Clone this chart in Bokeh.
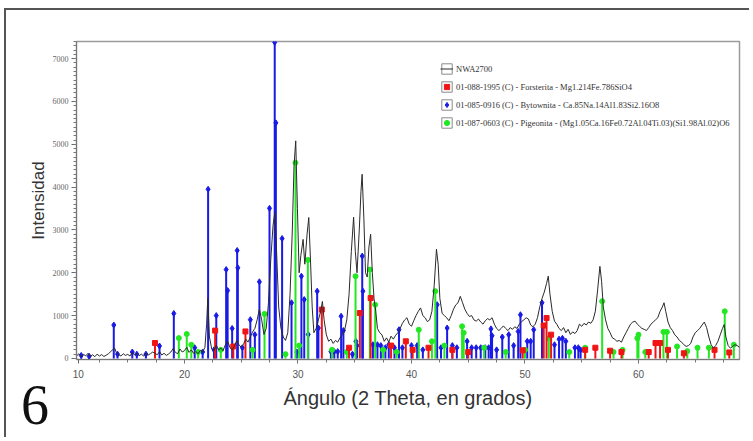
from bokeh.plotting import figure
from bokeh.models import (ColumnDataSource, Range1d, Legend, LegendItem, Div,
                          SingleIntervalTicker, FixedTicker)
from bokeh.layouts import column
from bokeh.embed import file_html
from bokeh.resources import INLINE

# ---------------- data ----------------
nwa_angle = [10.5, 10.7, 10.9, 11.1, 11.3, 11.5, 11.7, 11.9, 12.1, 12.3, 12.5, 12.7, 12.9, 13.1, 13.3,
             13.5, 13.7, 13.85, 14.0, 14.2, 14.4, 14.6, 14.8, 15.0, 15.2, 15.4, 15.6, 15.8, 16.0, 16.2,
             16.4, 16.6, 16.8, 17.0, 17.2, 17.4, 17.6, 17.8, 18.0, 18.2, 18.4, 18.6, 18.8, 19.0, 19.2,
             19.4, 19.6, 19.8, 20.0, 20.2, 20.4, 20.6, 20.8, 21.0, 21.2, 21.4, 21.6, 21.8, 21.95, 22.05,
             22.2, 22.4, 22.6, 22.8, 23.0, 23.2, 23.4, 23.6, 23.8, 24.0, 24.2, 24.4, 24.6, 24.8, 25.0,
             25.2, 25.4, 25.6, 25.8, 26.0, 26.2, 26.4, 26.6, 26.8, 27.0, 27.2, 27.4, 27.6, 27.8, 27.95,
             28.1, 28.3, 28.5, 28.7, 28.9, 29.1, 29.3, 29.5, 29.65, 29.8, 29.95, 30.1, 30.25, 30.45, 30.6,
             30.8, 30.95, 31.1, 31.25, 31.4, 31.6, 31.8, 32.0, 32.15, 32.3, 32.5, 32.7, 32.9, 33.1, 33.3,
             33.5, 33.7, 33.9, 34.1, 34.3, 34.5, 34.7, 34.9, 35.05, 35.2, 35.4, 35.55, 35.65, 35.8, 35.95,
             36.1, 36.25, 36.4, 36.55, 36.7, 36.85, 37.0, 37.2, 37.4, 37.6, 37.8, 38.0, 38.2, 38.4, 38.6,
             38.8, 39.0, 39.2, 39.4, 39.6, 39.8, 40.0, 40.2, 40.4, 40.6, 40.8, 41.0, 41.2, 41.4, 41.6,
             41.8, 42.0, 42.2, 42.35, 42.5, 42.7, 42.9, 43.1, 43.3, 43.5, 43.7, 43.9, 44.1, 44.3, 44.5,
             44.7, 44.9, 45.1, 45.3, 45.5, 45.7, 45.9, 46.1, 46.3, 46.5, 46.7, 46.9, 47.1, 47.3, 47.5,
             47.7, 47.9, 48.1, 48.3, 48.5, 48.7, 48.9, 49.1, 49.3, 49.5, 49.7, 49.9, 50.1, 50.3, 50.5,
             50.7, 50.9, 51.1, 51.3, 51.5, 51.7, 51.9, 52.05, 52.2, 52.4, 52.6, 52.8, 53.0, 53.2, 53.4,
             53.6, 53.8, 54.0, 54.2, 54.4, 54.6, 54.8, 55.0, 55.2, 55.4, 55.6, 55.8, 56.0, 56.2, 56.4,
             56.6, 56.75, 56.9, 57.1, 57.3, 57.5, 57.7, 57.9, 58.1, 58.3, 58.5, 58.7, 58.9, 59.1, 59.3,
             59.5, 59.7, 59.9, 60.1, 60.3, 60.5, 60.7, 60.9, 61.1, 61.3, 61.5, 61.7, 61.9, 62.1, 62.25,
             62.4, 62.6, 62.8, 63.0, 63.2, 63.4, 63.6, 63.8, 64.0, 64.2, 64.4, 64.6, 64.8, 65.0, 65.2,
             65.4, 65.6, 65.8, 66.0, 66.2, 66.4, 66.6, 66.8, 67.0, 67.2, 67.4, 67.55, 67.7, 67.9, 68.1,
             68.3, 68.5, 68.7, 68.9]
nwa_int = [60, 110, 40, 95, 60, 120, 45, 85, 40, 100, 55, 90, 45, 75, 110,
           160, 210, 240, 130, 90, 55, 110, 70, 95, 55, 140, 80, 120, 65, 100,
           55, 130, 80, 110, 150, 120, 85, 160, 80, 120, 70, 105, 150, 230, 140,
           110, 220, 150, 180, 260, 140, 200, 120, 160, 110, 190, 150, 260, 800, 1400,
           500, 220, 180, 310, 200, 240, 180, 320, 400, 260, 200, 280, 420, 320, 260,
           330, 450, 380, 500, 620, 700, 900, 1150, 900, 560, 700, 1300, 2300, 3100, 3400,
           2600, 1200, 700, 500, 420, 600, 1500, 3000, 4500, 5080, 3500, 2000, 2400, 2780, 2200,
           2900, 3290, 2300, 1200, 600, 700, 900, 1100, 1330, 900, 550, 400, 450, 350, 420,
           380, 480, 550, 650, 900, 1500, 2500, 3300, 2500, 2000, 3000, 3900, 4300, 3300, 2000,
           1900, 2600, 2900, 2000, 1400, 1100, 700, 600, 550, 400, 480, 380, 520, 450, 540,
           600, 700, 820, 900, 950, 800, 750, 880, 1000, 1100, 1180, 1000, 950, 860, 900,
           1100, 1700, 2550, 2200, 1400, 1050, 1000, 950, 880, 1000, 1150, 1250, 1300, 1450, 1300,
           1150, 1050, 980, 1000, 900, 870, 920, 850, 800, 880, 930, 900, 950, 800, 700,
           650, 700, 760, 700, 650, 720, 680, 740, 700, 800, 860, 900, 950, 920, 780,
           740, 800, 950, 1200, 1400, 1550, 1750, 1920, 1500, 1100, 870, 800, 700, 650, 720,
           600, 680, 560, 620, 580, 650, 800, 750, 820, 780, 850, 820, 900, 1100, 1600,
           2150, 1800, 1200, 900, 700, 600, 480, 450, 400, 420, 380, 500, 600, 700, 800,
           850, 870, 800, 750, 700, 680, 650, 720, 800, 850, 900, 950, 1100, 1200, 1300,
           1100, 850, 720, 650, 550, 500, 420, 380, 320, 280, 300, 350, 500, 600, 650,
           700, 780, 850, 720, 500, 320, 240, 300, 400, 550, 700, 790, 500, 300, 240,
           280, 320, 300, 260]

# Forsterita (red)
forst_angle = [17.4, 22.7, 24.3, 25.37, 32.1, 34.5, 35.45, 36.4, 38.2, 39.5, 40.1, 41.5, 43.6, 45.0,
               49.8, 51.65, 51.9, 52.3, 55.3, 56.2, 57.5, 58.5, 60.9, 61.5, 61.9, 62.6, 64.0, 66.7, 68.0]
forst_int = [360, 650, 280, 630, 1140, 250, 1060, 1410, 300, 400, 200, 250, 200, 150,
             190, 770, 945, 555, 200, 250, 180, 150, 150, 360, 360, 200, 120, 200, 140]

# Bytownita (blue)
byt_angle = [10.9, 11.6, 13.77, 14.1, 15.4, 15.8, 16.6, 17.8, 19.06, 20.9, 21.6, 22.08, 22.6, 22.8,
             23.67, 23.8, 24.2, 24.64, 24.7, 25.1, 25.8, 26.2, 26.6, 27.49, 27.95, 28.05, 28.6, 29.43,
             29.9, 30.3, 30.55, 30.9, 31.69, 31.8, 32.9, 33.2, 33.5, 33.8, 34.0, 34.8, 35.1, 35.2,
             35.66, 35.72, 36.6, 37.0, 37.3, 37.7, 38.0, 38.5, 38.9, 39.2, 40.0, 40.5, 41.0, 42.26,
             42.6, 43.14, 43.6, 44.0, 44.9, 45.3, 45.7, 46.1, 46.5, 46.8, 47.0, 47.1, 47.5, 48.0,
             48.57, 49.0, 49.4, 49.6, 50.2, 50.5, 50.77, 51.5, 52.6, 53.0, 53.3, 53.6, 54.4, 54.7, 54.9]
byt_int = [70, 50, 780, 100, 150, 100, 100, 290, 1050, 250, 150, 3950, 200, 1000,
           2075, 1585, 700, 2520, 2115, 250, 905, 555, 1790, 3505, 7380, 5500, 2800, 1300,
           150, 1920, 1375, 560, 1570, 710, 160, 160, 160, 985, 650, 100, 400, 300,
           2390, 1570, 320, 320, 300, 250, 320, 250, 670, 250, 300, 300, 200, 1255,
           250, 710, 300, 250, 400, 250, 250, 250, 250, 250, 690, 530, 200, 500,
           555, 300, 630, 1020, 400, 400, 670, 1300, 320, 450, 470, 400, 250, 250, 200]

# Pigeonita (green)
pig_angle = [19.5, 20.2, 20.6, 21.2, 23.2, 26.0, 27.05, 28.9, 29.78, 30.1, 30.87, 33.0, 34.3, 35.07,
             36.33, 36.8, 37.5, 38.7, 40.64, 41.8, 42.1, 42.9, 44.46, 44.6, 46.4, 48.3, 50.0, 52.1,
             53.9, 55.3, 56.8, 57.8, 58.6, 59.9, 60.0, 60.6, 62.2, 62.5, 63.4, 64.3, 65.2, 66.2,
             67.6, 68.4]
pig_int = [475, 570, 320, 150, 200, 200, 1040, 100, 4570, 300, 2300, 200, 150, 1920,
           2075, 1255, 200, 150, 670, 400, 1570, 300, 750, 600, 250, 150, 200, 470,
           150, 250, 1335, 150, 200, 470, 555, 150, 620, 620, 280, 170, 250, 250,
           1100, 320]

legend_labels = [
    "NWA2700",
    "01-088-1995 (C) - Forsterita - Mg1.214Fe.786SiO4",
    "01-085-0916 (C) - Bytownita - Ca.85Na.14Al1.83Si2.16O8",
    "01-087-0603 (C) - Pigeonita - (Mg1.05Ca.16Fe0.72Al.04Ti.03)(Si1.98Al.02)O6",
]
x_label = "Ángulo (2 Theta, en grados)"
y_label = "Intensidad"
panel_number = "6"

# x tick labels: the first label "10" sits just inside the left edge in the original
x_tick_pos = [10.65, 20, 30, 40, 50, 60]
x_tick_text = ["10", "20", "30", "40", "50", "60"]

RED = "#f01414"
BLUE = "#1a1ae6"
GREEN = "#22e822"
BLACK = "#2a2a2a"

# ---------------- figure ----------------
p = figure(width=745, height=429, output_backend="svg", toolbar_location=None,
           x_range=Range1d(10.485, 68.9), y_range=Range1d(-25, 7400),
           min_border_left=70, min_border_right=12, min_border_top=31, min_border_bottom=80)
p.margin = (8, 0, 0, 4)
p.styles = {"border-left": "2px solid #555555", "border-top": "2px solid #555555"}
p.xgrid.visible = False
p.ygrid.visible = False
p.outline_line_color = "#9a9a9a"
p.outline_line_width = 1.5
p.background_fill_color = "white"

# sticks
src_b = ColumnDataSource(dict(x=byt_angle, y=byt_int, z=[0] * len(byt_angle)))
src_g = ColumnDataSource(dict(x=pig_angle, y=pig_int, z=[0] * len(pig_angle)))
src_r = ColumnDataSource(dict(x=forst_angle, y=forst_int, z=[0] * len(forst_angle)))

p.segment(x0="x", y0="z", x1="x", y1="y", source=src_b, line_color=BLUE, line_width=2)
rb = p.scatter("x", "y", source=src_b, marker="diamond", size=6, color=BLUE)
p.segment(x0="x", y0="z", x1="x", y1="y", source=src_g, line_color=GREEN, line_width=2)
rg = p.scatter("x", "y", source=src_g, marker="circle", size=5, color=GREEN)
p.segment(x0="x", y0="z", x1="x", y1="y", source=src_r, line_color=RED, line_width=2)
rr = p.scatter("x", "y", source=src_r, marker="square", size=5, color=RED)

# measured pattern
rl = p.line(nwa_angle, nwa_int, line_color=BLACK, line_width=1)

# legend icon frames (renderers with a single undefined point: they only draw in the legend)
nan = float("nan")
boxes = [p.quad(left=[nan], right=[nan], top=[nan], bottom=[nan], fill_color="white",
                line_color="#8a8a8a", line_width=1) for _ in range(4)]

items = [
    LegendItem(label=legend_labels[0], renderers=[boxes[0], rl]),
    LegendItem(label=legend_labels[1], renderers=[boxes[1], rr]),
    LegendItem(label=legend_labels[2], renderers=[boxes[2], rb]),
    LegendItem(label=legend_labels[3], renderers=[boxes[3], rg]),
]
legend = Legend(items=items, location=(361, 227), padding=3, margin=0, spacing=5,
                glyph_width=13, glyph_height=13, label_height=12, label_standoff=3,
                label_text_font="Liberation Serif", label_text_font_size="8.5px",
                label_text_color="#333333", border_line_alpha=0, background_fill_alpha=0)
p.add_layout(legend)

# axes
x_minor = [12.5 + 2.5 * i for i in range(23)]
p.xaxis.ticker = FixedTicker(ticks=x_tick_pos, minor_ticks=x_minor)
p.xaxis.major_label_overrides = {t: s for t, s in zip(x_tick_pos, x_tick_text)}
p.yaxis.ticker = SingleIntervalTicker(interval=1000, num_minor_ticks=10)
for ax in (p.xaxis[0], p.yaxis[0]):
    ax.axis_line_color = "#777777"
    ax.major_tick_line_color = "#666666"
    ax.minor_tick_line_color = "#777777"
    ax.major_tick_in = 0
    ax.minor_tick_in = 0
    ax.axis_label_text_font = "Liberation Sans"
    ax.axis_label_text_font_style = "normal"
    ax.axis_label_text_color = "#333333"
p.xaxis.major_tick_out = 4
p.xaxis.minor_tick_out = 3
p.xaxis.major_label_standoff = 6
p.xaxis.major_label_text_font = "Liberation Sans"
p.xaxis.major_label_text_font_size = "10px"
p.xaxis.major_label_text_color = "#555555"
p.xaxis.axis_label = x_label
p.xaxis.axis_label_text_font_size = "20px"
p.xaxis.axis_label_standoff = 6

p.yaxis.major_tick_out = 5
p.yaxis.minor_tick_out = 3
p.yaxis.major_label_standoff = 3
p.yaxis.major_label_text_font = "Liberation Serif"
p.yaxis.major_label_text_font_size = "8px"
p.yaxis.major_label_text_color = "#666666"
p.yaxis.axis_label = y_label
p.yaxis.axis_label_text_font_size = "17px"
p.yaxis.axis_label_standoff = 2

# panel number, overlapping the bottom-left corner of the figure
num = Div(text=panel_number, width=40, height=56, margin=(-60, 0, 0, 21),
          styles={"font-family": "Liberation Serif", "font-size": "56px",
                  "line-height": "56px", "color": "#111111"})

layout = column(p, num)
open("out.html", "w").write(file_html(layout, INLINE))
